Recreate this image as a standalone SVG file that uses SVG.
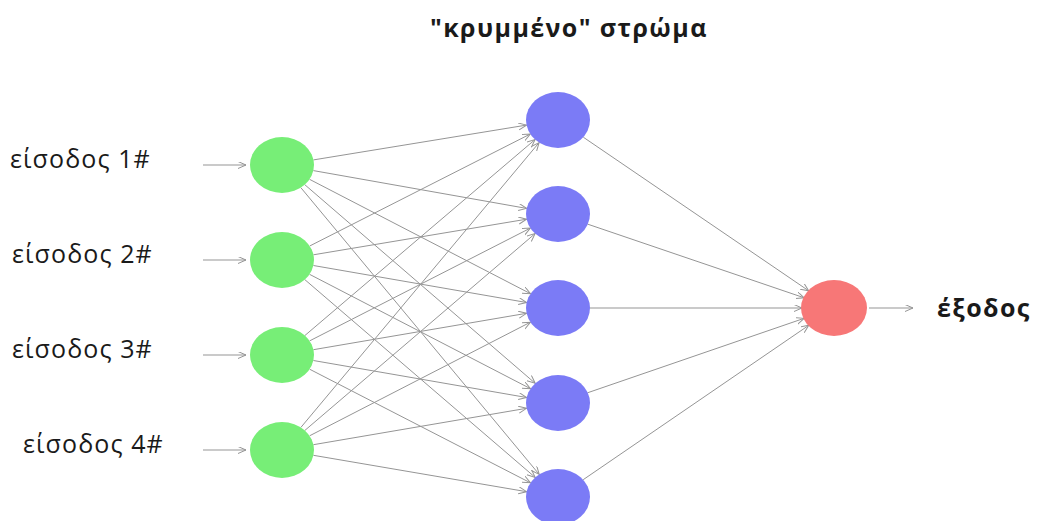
<svg xmlns="http://www.w3.org/2000/svg" width="1037" height="521" viewBox="0 0 1037 521">
<style>
.lbl{font-family:"Open Sans","DejaVu Sans",sans-serif;font-size:25px;letter-spacing:1.1px;fill:#1a1a1a}
.bold{font-family:"Open Sans","DejaVu Sans",sans-serif;font-size:25px;font-weight:bold;letter-spacing:1.4px;fill:#1a1a1a}
.c{stroke:#959595;stroke-width:1;fill:none;marker-end:url(#ah)}
.in{fill:#77ee77}
.hid{fill:#7b7bf6}
.out{fill:#f77777}
</style>
<defs>
<marker id="ah" markerUnits="userSpaceOnUse" markerWidth="10" markerHeight="8" refX="8" refY="3.5" orient="auto">
<path d="M0,0 L8,3.5 L0,7" fill="none" stroke="#959595" stroke-width="1"/>
</marker>
</defs>
<rect width="1037" height="521" fill="#ffffff"/>
<text class="bold" x="430" y="37">"κρυμμένο" στρώμα</text>
<g id="connectors">
<line class="c" x1="203" y1="165" x2="246" y2="165"/>
<line class="c" x1="203" y1="260" x2="246" y2="260"/>
<line class="c" x1="203" y1="355" x2="246" y2="355"/>
<line class="c" x1="203" y1="450" x2="246" y2="450"/>
<line class="c" x1="313.5" y1="159.9" x2="526.5" y2="125.1"/>
<line class="c" x1="313.4" y1="170.6" x2="526.6" y2="208.4"/>
<line class="c" x1="309.5" y1="179.3" x2="530.5" y2="293.7"/>
<line class="c" x1="304.8" y1="184.7" x2="535.2" y2="383.3"/>
<line class="c" x1="300.8" y1="187.6" x2="539.2" y2="474.4"/>
<line class="c" x1="309.7" y1="246" x2="530.3" y2="134"/>
<line class="c" x1="313.4" y1="254.8" x2="526.6" y2="219.2"/>
<line class="c" x1="313.4" y1="265.5" x2="526.6" y2="302.5"/>
<line class="c" x1="309.5" y1="274.3" x2="530.5" y2="388.7"/>
<line class="c" x1="304.8" y1="279.6" x2="535.2" y2="477.4"/>
<line class="c" x1="304.9" y1="335.5" x2="535.1" y2="139.5"/>
<line class="c" x1="309.6" y1="340.9" x2="530.4" y2="228.1"/>
<line class="c" x1="313.4" y1="349.7" x2="526.6" y2="313.3"/>
<line class="c" x1="313.4" y1="360.5" x2="526.6" y2="397.5"/>
<line class="c" x1="309.6" y1="369.2" x2="530.4" y2="482.8"/>
<line class="c" x1="300.9" y1="427.4" x2="539.1" y2="142.6"/>
<line class="c" x1="304.9" y1="430.4" x2="535.1" y2="233.6"/>
<line class="c" x1="309.6" y1="435.8" x2="530.4" y2="322.2"/>
<line class="c" x1="313.4" y1="444.7" x2="526.6" y2="408.3"/>
<line class="c" x1="313.4" y1="455.3" x2="526.6" y2="491.7"/>
<line class="c" x1="583.3" y1="137.2" x2="808.7" y2="290.8"/>
<line class="c" x1="587.8" y1="224.2" x2="804.2" y2="297.8"/>
<line class="c" x1="590" y1="308" x2="802" y2="308"/>
<line class="c" x1="587.8" y1="392.7" x2="804.2" y2="318.3"/>
<line class="c" x1="583.2" y1="479.7" x2="808.8" y2="325.3"/>
<line class="c" x1="869" y1="308" x2="913" y2="308"/>
</g>
<g id="input1"><text class="lbl" x="10" y="168">είσοδος 1#</text><ellipse class="in" cx="282" cy="165" rx="32" ry="28"/></g>
<g id="input2"><text class="lbl" x="12" y="263">είσοδος 2#</text><ellipse class="in" cx="282" cy="260" rx="32" ry="28"/></g>
<g id="input3"><text class="lbl" x="12" y="358">είσοδος 3#</text><ellipse class="in" cx="282" cy="355" rx="32" ry="28"/></g>
<g id="input4"><text class="lbl" x="23" y="453">είσοδος 4#</text><ellipse class="in" cx="282" cy="450" rx="32" ry="28"/></g>
<g id="hidden1"><ellipse class="hid" cx="558" cy="120" rx="32" ry="28"/></g>
<g id="hidden2"><ellipse class="hid" cx="558" cy="214" rx="32" ry="28"/></g>
<g id="hidden3"><ellipse class="hid" cx="558" cy="308" rx="32" ry="28"/></g>
<g id="hidden4"><ellipse class="hid" cx="558" cy="403" rx="32" ry="28"/></g>
<g id="hidden5"><ellipse class="hid" cx="558" cy="497" rx="32" ry="28"/></g>
<g id="output"><ellipse class="out" cx="834" cy="308" rx="33" ry="28"/><text class="bold" x="937" y="317">έξοδος</text></g>
</svg>
